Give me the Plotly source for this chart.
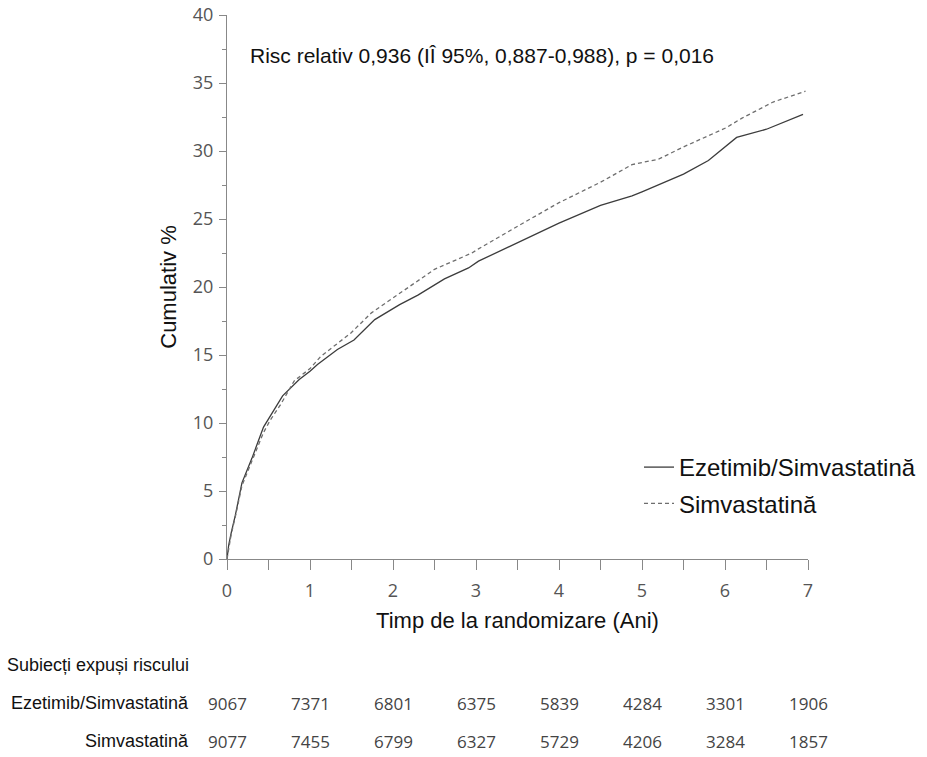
import plotly.graph_objects as go

# Data
years_eze = [0, 0.02, 0.05, 0.1, 0.18, 0.3, 0.44, 0.5, 0.67, 0.87, 1.0, 1.09, 1.33, 1.53,
             1.78, 2.08, 2.3, 2.62, 2.91, 3.03, 3.51, 4.0, 4.5, 4.88, 5.0, 5.5, 5.8,
             6.14, 6.5, 6.94]
cum_eze = [0, 1.0, 1.9, 3.2, 5.6, 7.4, 9.7, 10.3, 12.0, 13.2, 13.8, 14.3, 15.4, 16.1,
           17.6, 18.7, 19.4, 20.6, 21.4, 21.9, 23.3, 24.7, 26.0, 26.7, 27.0, 28.3, 29.3,
           31.0, 31.6, 32.7]

years_sim = [0, 0.02, 0.05, 0.1, 0.18, 0.3, 0.44, 0.52, 0.65, 0.81, 1.0, 1.13, 1.49,
             1.74, 2.1, 2.5, 2.95, 3.03, 3.51, 4.0, 4.5, 4.88, 5.2, 5.5, 6.01, 6.2,
             6.58, 6.97]
cum_sim = [0, 0.8, 1.8, 3.1, 5.4, 7.2, 9.3, 10.2, 11.4, 13.1, 14.0, 14.9, 16.6,
           18.1, 19.6, 21.3, 22.5, 22.8, 24.5, 26.2, 27.7, 29.0, 29.4, 30.3, 31.7, 32.4,
           33.6, 34.4]

risk_years = [0, 1, 2, 3, 4, 5, 6, 7]
risk_eze = [9067, 7371, 6801, 6375, 5839, 4284, 3301, 1906]
risk_sim = [9077, 7455, 6799, 6327, 5729, 4206, 3284, 1857]

name_eze = "Ezetimib/Simvastatină"
name_sim = "Simvastatină"
risk_header = "Subiecți expuși riscului"
note = "Risc relativ 0,936 (IÎ 95%, 0,887-0,988), p = 0,016"

# plot area in pixels
L, R, T, B = 227, 808, 15, 559
W, H = R - L, B - T

fig = go.Figure()
fig.add_trace(go.Scatter(x=years_eze, y=cum_eze, mode="lines", name=name_eze,
                         legendgroup="a",
                         line=dict(color="#3c3c3c", width=1.3)))
fig.add_trace(go.Scatter(x=years_sim, y=cum_sim, mode="lines", name=name_sim,
                         legendgroup="b",
                         line=dict(color="#6e6e6e", width=1.3, dash="4px,3px")))

tick_font = dict(family="Open Sans, sans-serif", size=18, color="#555555")
title_font = dict(family="Liberation Sans, Arial, sans-serif", size=22, color="#111111")

fig.update_xaxes(range=[0, 7], tickvals=risk_years, ticks="outside", ticklen=10,
                 tickcolor="#888888", showline=True, linecolor="#888888", linewidth=1.2,
                 showgrid=False, zeroline=False, tickfont=tick_font,
                 ticklabelstandoff=5,
                 minor=dict(dtick=0.5, ticks="outside", ticklen=10, tickcolor="#888888"),
                 title=dict(text="Timp de la randomizare (Ani)", font=title_font, standoff=11))
fig.update_yaxes(range=[0, 40], dtick=5, ticks="outside", ticklen=7,
                 tickcolor="#888888", showline=True, linecolor="#888888", linewidth=1.2,
                 showgrid=False, zeroline=False, tickfont=tick_font,
                 ticklabelstandoff=2,
                 minor=dict(dtick=2.5, ticks="outside", ticklen=4, tickcolor="#888888"),
                 title=dict(text="Cumulativ %", font=title_font, standoff=10))

annotations = [dict(text=note, xref="paper", yref="paper",
                    x=(482 - L) / W, y=(B - 56) / H, xanchor="center",
                    yanchor="middle", showarrow=False,
                    font=dict(family="Liberation Sans, Arial, sans-serif", size=21,
                              color="#111111"))]

label_font = dict(family="Liberation Sans, Arial, sans-serif", size=18, color="#111111")
num_font = dict(family="Open Sans, sans-serif", size=17, color="#444444")
lab_x = (191 - L) / W
annotations.append(dict(text=risk_header, xref="paper", yref="paper", x=lab_x,
                        y=(B - 665) / H, xanchor="right", yanchor="middle",
                        showarrow=False, font=label_font))
annotations.append(dict(text=name_eze, xref="paper", yref="paper", x=lab_x,
                        y=(B - 703) / H, xanchor="right", yanchor="middle",
                        showarrow=False, font=label_font))
annotations.append(dict(text=name_sim, xref="paper", yref="paper", x=lab_x,
                        y=(B - 741) / H, xanchor="right", yanchor="middle",
                        showarrow=False, font=label_font))
for xv, a, b in zip(risk_years, risk_eze, risk_sim):
    annotations.append(dict(text=str(a), xref="x", yref="paper", x=xv,
                            y=(B - 703) / H, xanchor="center", yanchor="middle",
                            showarrow=False, font=num_font))
    annotations.append(dict(text=str(b), xref="x", yref="paper", x=xv,
                            y=(B - 741) / H, xanchor="center", yanchor="middle",
                            showarrow=False, font=num_font))

fig.update_layout(
    width=927, height=757,
    margin=dict(l=L, r=927 - R, t=T, b=757 - B, autoexpand=False),
    paper_bgcolor="white", plot_bgcolor="white",
    annotations=annotations,
    legend=dict(x=(639 - L) / W, y=(B - 445) / H, xanchor="left", yanchor="top",
                bgcolor="rgba(0,0,0,0)",
                font=dict(family="Liberation Sans, Arial, sans-serif", size=24,
                          color="#111111"),
                tracegroupgap=2, itemwidth=30),
)

fig.write_html("out.html")
